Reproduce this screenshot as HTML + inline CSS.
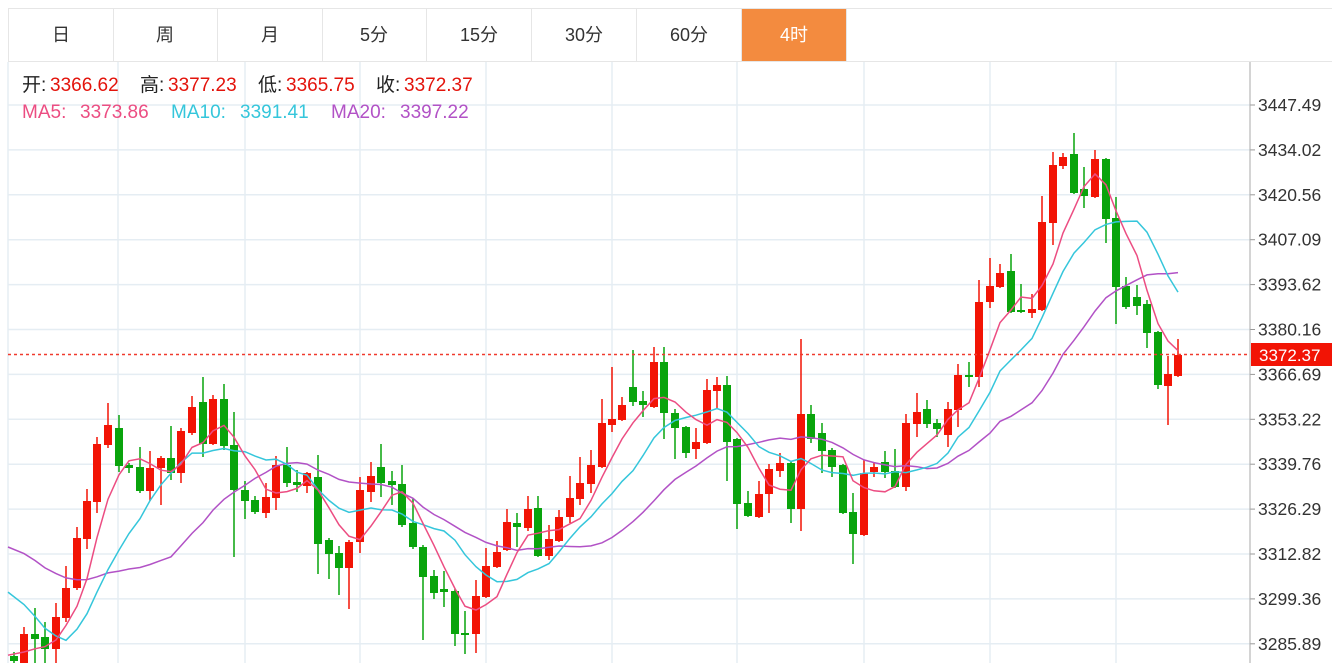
<!DOCTYPE html>
<html><head><meta charset="utf-8">
<style>
html,body{margin:0;padding:0;background:#fff;}
body{width:1332px;height:663px;overflow:hidden;position:relative;font-family:"Liberation Sans","Noto Sans CJK SC",sans-serif;}
.tabs{position:absolute;left:8px;top:8px;height:52px;width:1324px;border-top:1px solid #e6e6e6;border-bottom:1px solid #e6e6e6;}
.tab{position:absolute;top:0;height:52px;line-height:52px;text-align:center;font-size:18px;color:#333;border-right:1px solid #e6e6e6;}
.tab.on{background:#f38b3f;color:#fff;}
.h{position:absolute;font-size:19px;color:#222;white-space:nowrap;line-height:22px;}
.r{color:#e3130b;}
</style></head><body>
<div class="tabs">
<div class="tab" style="left:0;width:104px;border-left:1px solid #e6e6e6">日</div>
<div class="tab" style="left:105px;width:104px">周</div>
<div class="tab" style="left:210px;width:104px">月</div>
<div class="tab" style="left:314px;width:104px">5分</div>
<div class="tab" style="left:419px;width:104px">15分</div>
<div class="tab" style="left:524px;width:104px">30分</div>
<div class="tab" style="left:629px;width:104px">60分</div>
<div class="tab on" style="left:734px;width:104px">4时</div>
</div>
<svg id="c" width="1332" height="663" style="position:absolute;left:0;top:0"></svg>
<div class="h" style="left:22px;top:75px">开:</div><div class="h r" style="left:50px;top:75px">3366.62</div>
<div class="h" style="left:140px;top:75px">高:</div><div class="h r" style="left:168px;top:75px">3377.23</div>
<div class="h" style="left:258px;top:75px">低:</div><div class="h r" style="left:286px;top:75px">3365.75</div>
<div class="h" style="left:376px;top:75px">收:</div><div class="h r" style="left:404px;top:75px">3372.37</div>
<div class="h" style="left:22px;top:102px;color:#ec4d82">MA5:</div><div class="h" style="left:80px;top:102px;color:#ec4d82">3373.86</div>
<div class="h" style="left:171px;top:102px;color:#35c6db">MA10:</div><div class="h" style="left:240px;top:102px;color:#35c6db">3391.41</div>
<div class="h" style="left:331px;top:102px;color:#b252c6">MA20:</div><div class="h" style="left:400px;top:102px;color:#b252c6">3397.22</div>
<script>
var C=[[14,656,661,652,663],[24,663,634,627,663],[35,634,639,608,663],[45,637,649,622,663],[56,649,617,603,663],[66,618,588,566,622],[77,588,538,527,590],[87,539,501,489,549],[97,502,444,437,513],[108,445,425,403,448],[119,428,466,415,472],[129,465,468,463,473],[140,467,491,447,493],[150,491,468,451,501],[161,468,458,456,505],[171,458,473,426,480],[181,473,431,428,483],[192,433,407,396,435],[203,402,444,377,457],[213,444,399,395,445],[224,399,446,384,450],[234,445,490,412,557],[245,490,501,481,519],[255,500,512,496,514],[266,513,497,483,518],[276,498,465,456,510],[287,465,483,447,487],[297,482,485,470,492],[307,486,473,472,493],[318,477,544,455,574],[329,540,554,538,579],[339,553,568,546,595],[349,568,542,540,609],[360,542,490,477,553],[371,492,476,462,502],[381,467,483,444,497],[392,481,485,471,505],[402,484,525,465,527],[413,523,547,498,549],[423,547,577,545,640],[434,576,593,570,599],[444,589,592,571,607],[455,591,634,589,646],[465,633,635,611,654],[476,634,596,580,653],[486,597,566,548,598],[497,567,552,541,568],[507,550,522,509,551],[517,523,527,513,547],[528,528,509,496,531],[538,508,556,496,557],[549,556,539,525,560],[559,541,517,510,542],[570,517,498,476,523],[580,499,483,457,505],[591,484,465,450,493],[602,467,423,399,468],[612,425,419,367,432],[622,420,405,397,421],[633,387,402,350,406],[643,401,405,391,417],[654,407,362,347,408],[664,362,413,347,439],[675,413,428,409,459],[686,427,453,426,458],[696,449,442,428,459],[707,443,390,379,444],[717,391,385,377,409],[727,385,442,376,481],[737,439,504,438,529],[748,503,516,491,517],[759,517,494,481,518],[769,494,469,464,513],[780,471,463,453,477],[791,463,509,462,523],[801,509,414,339,531],[811,414,439,405,443],[822,433,451,423,473],[832,450,467,448,477],[843,465,513,464,514],[853,512,534,493,564],[864,535,473,460,536],[874,472,467,463,477],[885,462,472,451,478],[895,471,487,449,488],[906,487,423,414,491],[917,424,412,393,437],[927,409,424,400,428],[937,423,429,419,437],[948,435,409,402,447],[958,410,375,364,427],[969,375,377,362,387],[979,377,302,280,387],[990,302,286,258,308],[1000,287,273,264,288],[1011,271,312,254,313],[1021,310,312,284,313],[1032,313,309,294,318],[1042,310,222,196,311],[1053,223,165,152,245],[1063,166,157,153,169],[1074,154,193,133,194],[1084,189,196,167,208],[1095,197,159,150,198],[1106,159,219,158,243],[1116,218,287,197,324],[1126,286,307,277,309],[1137,297,306,285,315],[1147,304,333,300,348],[1158,332,385,331,389],[1168,386,374,356,425],[1178,376,355,339,377]];
var s='';
var labels=['3447.49','3434.02','3420.56','3407.09','3393.62','3380.16','3366.69','3353.22','3339.76','3326.29','3312.82','3299.36','3285.89'];
for(var i=0;i<13;i++){var y=105+i*44.9;s+='<line x1="8" x2="1250" y1="'+y+'" y2="'+y+'" stroke="#e5edf3" stroke-width="1.5"/>';
s+='<line x1="1250" x2="1255" y1="'+y+'" y2="'+y+'" stroke="#999"/>';
s+='<text x="1258" y="'+(y+6)+'" font-size="17.5" fill="#333" font-family="Liberation Sans,sans-serif">'+labels[i]+'</text>';}
[8,118,245,360,486,612,737,864,990,1116].forEach(function(x){s+='<line x1="'+x+'" x2="'+x+'" y1="62" y2="663" stroke="#e5edf3" stroke-width="1.5"/>';});
s+='<line x1="1250" x2="1250" y1="62" y2="663" stroke="#aaa"/>';
C.forEach(function(c){var up=c[2]<c[1];var col=up?'#f21405':'#09a40c';
s+='<line x1="'+c[0]+'" x2="'+c[0]+'" y1="'+c[3]+'" y2="'+c[4]+'" stroke="'+col+'" stroke-width="1.5"/>';
var t=Math.min(c[1],c[2]),h=Math.max(Math.abs(c[1]-c[2]),2);
s+='<rect x="'+(c[0]-4)+'" y="'+t+'" width="8" height="'+h+'" fill="'+col+'"/>';});
var cl=[502,502,502,502,502,502,502,502,502,502,510,520,530,540,545,650,655,660,650];
var P=19;C.forEach(function(c){cl.push(c[2]);});
function ma(n,col){var pts=[];for(var i=0;i<C.length;i++){var k=i+P,sum=0;for(var j=0;j<n;j++)sum+=cl[k-j];pts.push((i==0?8:C[i][0])+','+(sum/n).toFixed(1));}
s+='<polyline points="'+pts.join(' ')+'" fill="none" stroke="'+col+'" stroke-width="1.5"/>';}
ma(20,'#b252c6');ma(10,'#35c6db');ma(5,'#ec4d82');
s+='<line x1="8" x2="1250" y1="354.5" y2="354.5" stroke="#f03a2e" stroke-width="1.5" stroke-dasharray="3,3"/>';
s+='<rect x="1251" y="343" width="81" height="23" fill="#f21405"/>';
s+='<text x="1259" y="361" font-size="17" fill="#fff" font-family="Liberation Sans,sans-serif">3372.37</text>';
document.getElementById('c').innerHTML=s;
</script>
</body></html>
